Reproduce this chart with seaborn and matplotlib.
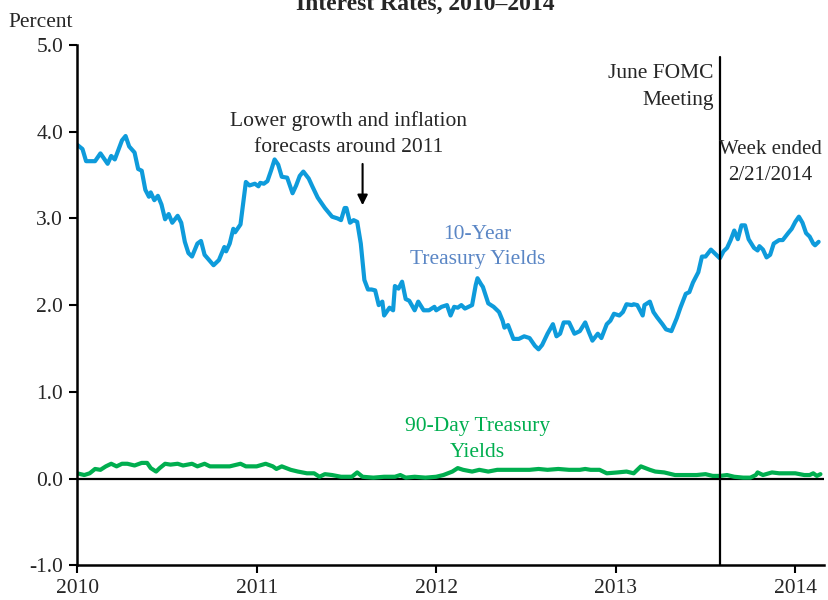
import matplotlib
matplotlib.use("Agg")
import matplotlib.pyplot as plt
import seaborn as sns
import pandas as pd

# 10-year treasury yields (decimal year, percent)
t10 = [2010.00, 2010.03, 2010.05, 2010.10, 2010.13, 2010.17, 2010.19, 2010.21, 2010.25, 2010.27,
       2010.29, 2010.32, 2010.34, 2010.36, 2010.38, 2010.40, 2010.41, 2010.43, 2010.45, 2010.47,
       2010.49, 2010.51, 2010.53, 2010.56, 2010.58, 2010.60, 2010.62, 2010.64, 2010.67, 2010.69,
       2010.71, 2010.76, 2010.79, 2010.82, 2010.83, 2010.85, 2010.87, 2010.88, 2010.91, 2010.94,
       2010.96, 2010.99, 2011.01, 2011.02, 2011.04, 2011.06, 2011.08, 2011.10, 2011.12, 2011.14,
       2011.17, 2011.20, 2011.22, 2011.24, 2011.26, 2011.29, 2011.31, 2011.34, 2011.38, 2011.42,
       2011.45, 2011.47, 2011.49, 2011.50, 2011.52, 2011.54, 2011.56, 2011.58, 2011.60, 2011.62,
       2011.64, 2011.66, 2011.68, 2011.70, 2011.71, 2011.74, 2011.76, 2011.77, 2011.79, 2011.81,
       2011.83, 2011.85, 2011.88, 2011.90, 2011.93, 2011.96, 2011.99, 2012.00, 2012.03, 2012.06,
       2012.08, 2012.10, 2012.12, 2012.14, 2012.16, 2012.20, 2012.22, 2012.23, 2012.25, 2012.26,
       2012.29, 2012.32, 2012.35, 2012.37, 2012.38, 2012.40, 2012.43, 2012.46, 2012.49, 2012.52,
       2012.55, 2012.57, 2012.59, 2012.62, 2012.65, 2012.67, 2012.69, 2012.71, 2012.74, 2012.77,
       2012.80, 2012.83, 2012.85, 2012.87, 2012.90, 2012.92, 2012.95, 2012.97, 2012.99, 2013.02,
       2013.04, 2013.06, 2013.09, 2013.10, 2013.12, 2013.15, 2013.16, 2013.19, 2013.21, 2013.23,
       2013.26, 2013.28, 2013.31, 2013.34, 2013.36, 2013.39, 2013.41, 2013.43, 2013.46, 2013.48,
       2013.50, 2013.53, 2013.58, 2013.60, 2013.62, 2013.64, 2013.66, 2013.68, 2013.70, 2013.72,
       2013.74, 2013.77, 2013.79, 2013.80, 2013.82, 2013.84, 2013.86, 2013.88, 2013.91, 2013.93,
       2013.96, 2013.98, 2014.00, 2014.02, 2014.04, 2014.06, 2014.08, 2014.10, 2014.11, 2014.13]
y10 = [3.85, 3.80, 3.66, 3.66, 3.75, 3.63, 3.72, 3.68, 3.90, 3.95,
       3.83, 3.76, 3.57, 3.55, 3.33, 3.25, 3.30, 3.21, 3.26, 3.16,
       2.99, 3.05, 2.95, 3.03, 2.95, 2.73, 2.60, 2.56, 2.71, 2.74,
       2.58, 2.46, 2.52, 2.67, 2.62, 2.71, 2.88, 2.84, 2.93, 3.42,
       3.38, 3.40, 3.37, 3.41, 3.40, 3.43, 3.55, 3.68, 3.62, 3.48,
       3.47, 3.29, 3.38, 3.49, 3.54, 3.46, 3.37, 3.24, 3.12, 3.02,
       3.00, 2.98, 3.12, 3.12, 2.95, 2.98, 2.96, 2.71, 2.29, 2.18,
       2.18, 2.17, 2.00, 2.04, 1.88, 1.97, 1.94, 2.22, 2.19, 2.27,
       2.07, 2.05, 1.94, 2.04, 1.94, 1.94, 1.98, 1.94, 1.98, 2.00,
       1.88, 1.98, 1.97, 2.00, 1.96, 2.00, 2.23, 2.31, 2.24, 2.21,
       2.02, 1.98, 1.92, 1.82, 1.74, 1.77, 1.61, 1.61, 1.64, 1.62,
       1.53, 1.49, 1.54, 1.67, 1.78, 1.64, 1.67, 1.80, 1.80, 1.67,
       1.70, 1.80, 1.69, 1.59, 1.67, 1.62, 1.78, 1.82, 1.90, 1.88,
       1.92, 2.01, 2.00, 2.01, 2.00, 1.88, 2.00, 2.04, 1.92, 1.86,
       1.78, 1.72, 1.70, 1.85, 1.97, 2.13, 2.15, 2.26, 2.38, 2.56,
       2.56, 2.64, 2.54, 2.62, 2.66, 2.75, 2.86, 2.76, 2.92, 2.92,
       2.76, 2.66, 2.63, 2.68, 2.64, 2.55, 2.58, 2.71, 2.75, 2.75,
       2.83, 2.88, 2.96, 3.02, 2.95, 2.83, 2.79, 2.71, 2.69, 2.73]

# 90-day treasury yields
t90 = [2010.00, 2010.04, 2010.07, 2010.10, 2010.13, 2010.16, 2010.19, 2010.22, 2010.25, 2010.28,
       2010.32, 2010.36, 2010.39, 2010.41, 2010.44, 2010.46, 2010.49, 2010.52, 2010.56, 2010.59,
       2010.64, 2010.67, 2010.71, 2010.74, 2010.79, 2010.85, 2010.91, 2010.94, 2011.00, 2011.05,
       2011.09, 2011.11, 2011.14, 2011.19, 2011.23, 2011.28, 2011.32, 2011.35, 2011.38, 2011.42,
       2011.47, 2011.53, 2011.56, 2011.59, 2011.65, 2011.71, 2011.77, 2011.80, 2011.83, 2011.88,
       2011.94, 2012.00, 2012.04, 2012.09, 2012.12, 2012.15, 2012.20, 2012.24, 2012.29, 2012.34,
       2012.40, 2012.46, 2012.52, 2012.57, 2012.62, 2012.68, 2012.74, 2012.80, 2012.83, 2012.86,
       2012.91, 2012.95, 2013.01, 2013.06, 2013.10, 2013.14, 2013.19, 2013.22, 2013.27, 2013.33,
       2013.39, 2013.45, 2013.50, 2013.54, 2013.58, 2013.62, 2013.66, 2013.71, 2013.75, 2013.78,
       2013.79, 2013.82, 2013.87, 2013.91, 2013.96, 2014.00, 2014.05, 2014.08, 2014.10, 2014.12,
       2014.14]
y90 = [0.06, 0.04, 0.06, 0.11, 0.10, 0.14, 0.17, 0.14, 0.17, 0.17,
       0.15, 0.18, 0.18, 0.12, 0.08, 0.12, 0.17, 0.16, 0.17, 0.15,
       0.17, 0.14, 0.17, 0.14, 0.14, 0.14, 0.17, 0.14, 0.14, 0.17,
       0.14, 0.11, 0.14, 0.10, 0.08, 0.06, 0.06, 0.02, 0.05, 0.04,
       0.02, 0.02, 0.07, 0.02, 0.01, 0.02, 0.02, 0.04, 0.01, 0.02,
       0.01, 0.02, 0.04, 0.08, 0.12, 0.10, 0.08, 0.10, 0.08, 0.10,
       0.10, 0.10, 0.10, 0.11, 0.10, 0.11, 0.10, 0.10, 0.11, 0.10,
       0.10, 0.06, 0.07, 0.08, 0.06, 0.14, 0.10, 0.08, 0.07, 0.04,
       0.04, 0.04, 0.05, 0.03, 0.03, 0.04, 0.02, 0.01, 0.01, 0.04,
       0.07, 0.04, 0.07, 0.06, 0.06, 0.06, 0.04, 0.04, 0.06, 0.03,
       0.05]

year_ticks = [2010, 2011, 2012, 2013, 2014]
y_ticks = [-1.0, 0.0, 1.0, 2.0, 3.0, 4.0, 5.0]
fomc_date = 2013.58

df10 = pd.DataFrame({"year": t10, "rate": y10})
df90 = pd.DataFrame({"year": t90, "rate": y90})

sns.set_style("ticks")
plt.rcParams["font.family"] = ["Liberation Serif", "DejaVu Serif"]

fig = plt.figure(figsize=(8.29, 6.0), dpi=100)
ax = fig.add_axes([0.093, 0.058, 0.901, 0.867])

sns.lineplot(data=df10, x="year", y="rate", color="#0E9BDB", lw=3, ax=ax)
sns.lineplot(data=df90, x="year", y="rate", color="#00AE4F", lw=3, ax=ax)

ax.axhline(0, color="black", lw=1.6, zorder=1)
ax.plot([fomc_date, fomc_date], [4.86, -1.0], color="black", lw=1.6)

ax.set_xlim(2010, 2014.16)
ax.set_ylim(-1.0, 5.0)
ax.set_xticks(year_ticks)
ax.set_xticklabels([str(y) for y in year_ticks], fontsize=15.5)
ax.set_yticks(y_ticks)
ax.set_yticklabels([f"{v:.1f}" for v in y_ticks], fontsize=15.5)
ax.set_xlabel("")
ax.set_ylabel("")
ax.tick_params(direction="out", length=6, width=1.5, color="black", pad=4)
sns.despine(ax=ax)
for side in ["left", "bottom"]:
    ax.spines[side].set_linewidth(1.8)
    ax.spines[side].set_color("black")

# annotations
ax.text(2011.51, 4.12, "Lower growth and inflation", ha="center", va="center", fontsize=15.5)
ax.text(2011.51, 3.82, "forecasts around 2011", ha="center", va="center", fontsize=15.5)
ax.annotate("", xy=(2011.59, 3.12), xytext=(2011.59, 3.66),
            arrowprops=dict(arrowstyle="-|>", color="black", lw=1.5, mutation_scale=15))
ax.text(2012.23, 2.82, "10-Year", ha="center", va="center", fontsize=15.5, color="#5A86C5")
ax.text(2012.23, 2.53, "Treasury Yields", ha="center", va="center", fontsize=15.5, color="#5A86C5")
ax.text(2012.23, 0.60, "90-Day Treasury", ha="center", va="center", fontsize=15.5, color="#00AE4F")
ax.text(2012.23, 0.30, "Yields", ha="center", va="center", fontsize=15.5, color="#00AE4F")
ax.text(2013.545, 4.67, "June FOMC", ha="right", va="center", fontsize=15.5)
ax.text(2013.545, 4.36, "Meeting", ha="right", va="center", fontsize=15.5)
ax.text(2013.86, 3.79, "Week ended", ha="center", va="center", fontsize=15)
ax.text(2013.86, 3.49, "2/21/2014", ha="center", va="center", fontsize=15)

fig.text(8 / 829, 1 - 27 / 600, "Percent", ha="left", va="baseline", fontsize=15.5)
fig.text(425 / 829, 1 - 10 / 600, "Interest Rates, 2010\u20132014", ha="center", va="baseline",
         fontsize=17, fontweight="bold")

fig.savefig("out.png", dpi=100)
